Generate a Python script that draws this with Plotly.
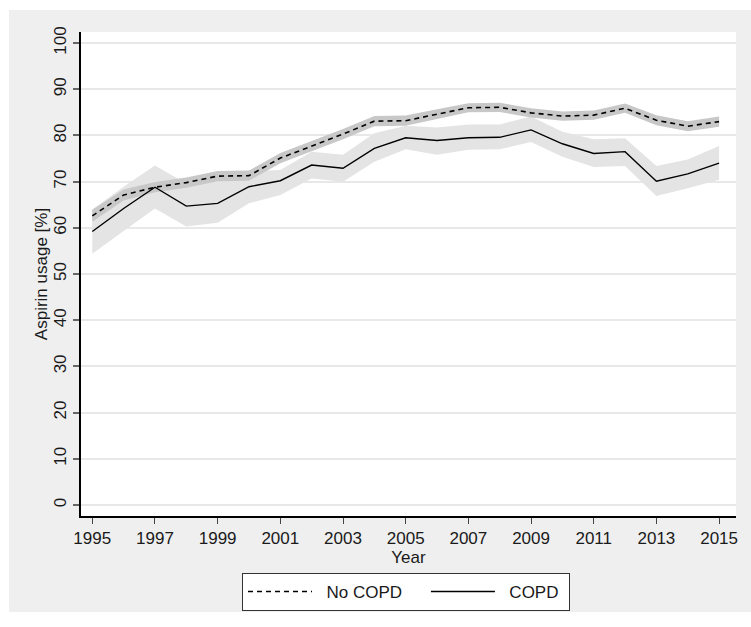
import plotly.graph_objects as go

years = list(range(1995, 2016))

no_copd = [62.6, 67.1, 68.8, 69.8, 71.2, 71.3, 75.1, 77.7, 80.3, 83.1, 83.2,
           84.6, 86.0, 86.1, 84.9, 84.2, 84.4, 85.9, 83.3, 82.0, 83.0]
no_copd_lo = [61.3, 65.9, 67.7, 68.7, 70.1, 70.2, 74.0, 76.6, 79.2, 82.0, 82.1,
              83.5, 85.0, 85.1, 83.9, 83.2, 83.4, 84.9, 82.2, 80.9, 81.9]
no_copd_hi = [63.9, 68.3, 69.9, 70.9, 72.3, 72.4, 76.2, 78.8, 81.4, 84.2, 84.3,
              85.7, 87.0, 87.1, 85.9, 85.2, 85.4, 86.9, 84.4, 83.1, 84.1]

copd = [59.2, 64.2, 68.8, 64.7, 65.3, 68.9, 70.2, 73.6, 72.9, 77.2, 79.5,
        78.9, 79.5, 79.6, 81.2, 78.2, 76.1, 76.5, 70.1, 71.7, 74.0]
copd_lo = [54.4, 59.3, 64.2, 60.3, 61.1, 65.3, 67.1, 70.7, 70.0, 74.3, 77.0,
           75.8, 76.9, 77.0, 78.6, 75.4, 73.2, 73.4, 66.9, 68.6, 70.4]
copd_hi = [64.0, 68.9, 73.5, 69.6, 70.0, 72.3, 72.5, 76.5, 75.8, 80.5, 82.1,
           81.7, 82.4, 82.4, 84.1, 80.8, 79.2, 79.4, 73.4, 74.8, 77.7]

xticks = list(range(1995, 2016, 2))
yticks = list(range(0, 101, 10))

NB = "\u00a0"

fig = go.Figure()

# confidence bands
fig.add_trace(go.Scatter(
    x=years + years[::-1], y=copd_hi + copd_lo[::-1],
    fill="toself", fillcolor="#e4e4e4", line=dict(width=0),
    mode="lines", showlegend=False, hoverinfo="skip"))
fig.add_trace(go.Scatter(
    x=years + years[::-1], y=no_copd_hi + no_copd_lo[::-1],
    fill="toself", fillcolor="#c8c8c8", line=dict(width=0),
    mode="lines", showlegend=False, hoverinfo="skip"))

# lines
fig.add_trace(go.Scatter(
    x=years, y=no_copd, mode="lines", name=NB * 2 + "No COPD" + NB * 4,
    line=dict(color="black", width=1.6, dash="5px,4px")))
fig.add_trace(go.Scatter(
    x=years, y=copd, mode="lines", name=NB * 2 + "COPD" + NB,
    line=dict(color="black", width=1.4)))

W, H = 751, 627
L, R, T, B = 81, 15, 32, 111
pw, ph = W - L - R, H - T - B


def px_x(p):
    return (p - L) / pw


def px_y(p):
    return (H - B - p) / ph


# white outer margins (the gray panel sits inside them)
for x0, y0, x1, y1 in [(0, 0, W, 10), (0, 0, 9, H), (0, 612, W, H)]:
    fig.add_shape(type="rect", xref="paper", yref="paper",
                  x0=px_x(x0), x1=px_x(x1), y0=px_y(y1), y1=px_y(y0),
                  fillcolor="white", line=dict(width=0), layer="below")

font = dict(family="Liberation Sans, Arial, sans-serif", size=17, color="#1a1a1a")

fig.update_layout(
    width=W, height=H,
    margin=dict(l=L, r=R, t=T, b=B, autoexpand=False),
    paper_bgcolor="#efefef", plot_bgcolor="white",
    font=font,
    showlegend=True,
    legend=dict(
        orientation="h", x=px_x(242), y=px_y(573), xanchor="left", yanchor="top",
        bgcolor="white", bordercolor="#333", borderwidth=1,
        font=font, itemwidth=64,
    ),
    xaxis=dict(
        range=[1994.64, 2015.54], tickvals=xticks, ticktext=[str(t) for t in xticks],
        showgrid=False, zeroline=False, showline=True, linecolor="black", linewidth=1.5,
        ticks="outside", ticklen=6, tickcolor="#444", tickwidth=1.2,
        title=dict(text="Year", standoff=0, font=font), automargin=False,
    ),
    yaxis=dict(
        range=[-2.38, 102.4], tickvals=yticks, ticktext=[str(t) for t in yticks],
        showgrid=True, gridcolor="#e8e8e8", gridwidth=1.5, zeroline=False,
        showline=True, linecolor="black", linewidth=1.5,
        ticks="outside", ticklen=6, tickcolor="#666", tickwidth=2,
        tickangle=-90,
        title=dict(text="Aspirin usage [%]", standoff=0, font=font), automargin=False,
    ),
)

fig.write_html("out.html")
